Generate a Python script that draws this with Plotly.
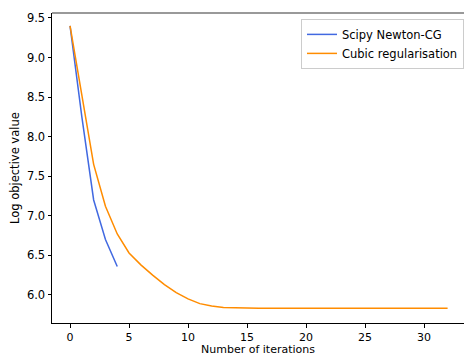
import plotly.graph_objects as go

newton_iters = [0, 1, 2, 3, 4]
newton_vals = [9.40, 8.25, 7.20, 6.70, 6.36]

cubic_iters = list(range(0, 33))
cubic_vals = [9.40, 8.50, 7.65, 7.12, 6.77, 6.53, 6.38, 6.25, 6.13, 6.03,
              5.95, 5.89, 5.86, 5.84, 5.835, 5.83, 5.83, 5.83, 5.83, 5.83,
              5.83, 5.83, 5.83, 5.83, 5.83, 5.83, 5.83, 5.83, 5.83, 5.83,
              5.83, 5.83, 5.83]

x_title = "Number of iterations"
y_title = "Log objective value"

font = dict(family="DejaVu Sans", size=11.5, color="black")
font_x = dict(family="DejaVu Sans", size=11, color="black")

fig = go.Figure()
fig.add_trace(go.Scatter(x=newton_iters, y=newton_vals, mode="lines",
                         name="Scipy Newton-CG",
                         line=dict(color="#4169E1", width=1.5)))
fig.add_trace(go.Scatter(x=cubic_iters, y=cubic_vals, mode="lines",
                         name="Cubic regularisation",
                         line=dict(color="#FF8C00", width=1.5)))

fig.update_layout(
    width=464, height=356,
    margin=dict(l=52, r=0, t=13, b=33),
    paper_bgcolor="white", plot_bgcolor="white",
    font=font,
    showlegend=True,
    legend=dict(x=1.0, y=0.981, xanchor="right", yanchor="top",
                bgcolor="rgba(255,255,255,0.8)", bordercolor="#cccccc",
                borderwidth=1, font=font, itemwidth=30,
                tracegroupgap=0),
    xaxis=dict(range=[-1.53, 33.39], tick0=0, dtick=5, showgrid=False,
               zeroline=False, showline=True, linecolor="black", linewidth=1,
               ticks="outside", ticklen=3.5, tickwidth=0.8, tickcolor="black",
               tickfont=font_x, ticklabelstandoff=0, automargin=False),
    yaxis=dict(range=[5.645, 9.563], tick0=6.0, dtick=0.5, tickformat=".1f",
               showgrid=False, zeroline=False, showline=True, linecolor="black",
               linewidth=1, ticks="outside", ticklen=3.5, tickwidth=0.8,
               tickcolor="black", automargin=False),
    annotations=[
        dict(text=x_title, xref="paper", yref="paper", x=0.5, y=-0.0839,
             xanchor="center", yanchor="middle", showarrow=False, font=font_x),
        dict(text=y_title, xref="paper", yref="paper", x=-0.0898, y=0.5,
             xanchor="center", yanchor="middle", textangle=-90,
             showarrow=False, font=font),
    ],
    shapes=[dict(type="line", xref="paper", yref="paper", x0=0, x1=1, y0=1, y1=1,
                 line=dict(color="#777777", width=1.5))],
)

fig.write_html("out.html")
